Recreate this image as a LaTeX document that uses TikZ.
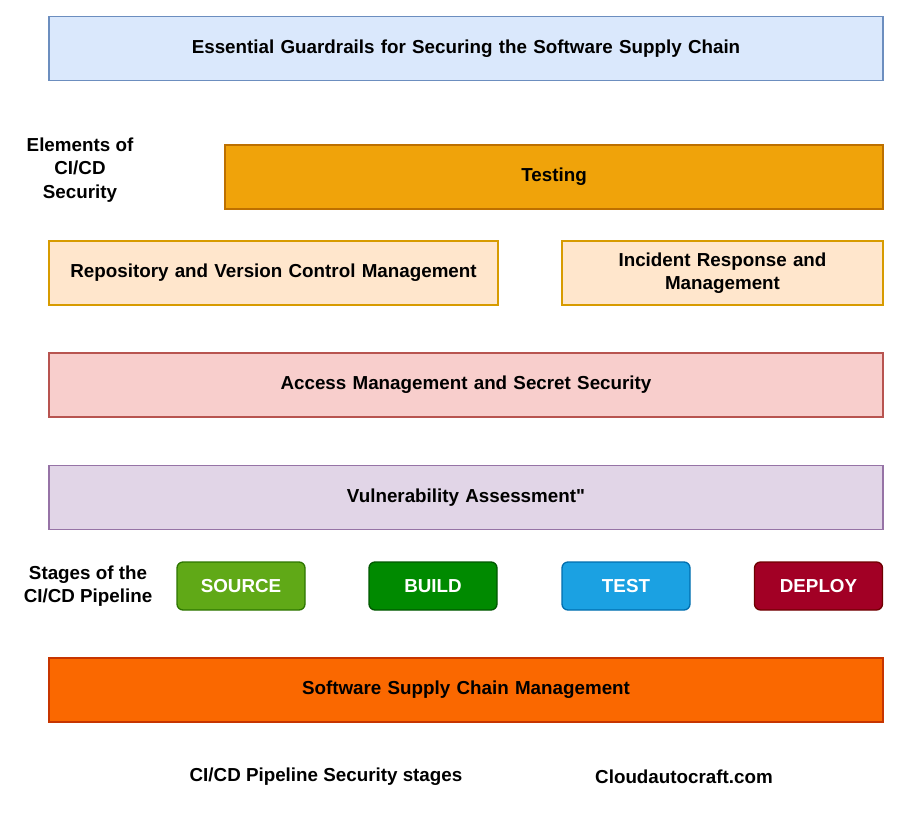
\documentclass[tikz,border=0pt]{standalone}
\usepackage{fontspec}
\setmainfont{Liberation Sans}
\newfontfamily\plainquote{Liberation Sans}[Ligatures=ResetAll]
\begin{document}
\begin{tikzpicture}[x=1pt,y=-1pt,
  font=\fontsize{18.8}{23.5}\selectfont\bfseries,
  band/.style={draw, line width=1.3pt, minimum height=64pt, inner sep=0pt, align=center, text width=#1},
  band/.default={300pt},
  stage/.style={draw, line width=1.3pt, rounded corners=6pt, minimum width=128pt, minimum height=48pt, inner sep=0pt, text=white},
  lbl/.style={align=center, inner sep=0pt}]
\definecolor{bluef}{HTML}{DAE8FC}\definecolor{blues}{HTML}{6C8EBF}
\definecolor{orf}{HTML}{F0A30A}\definecolor{ors}{HTML}{BD7000}
\definecolor{pchf}{HTML}{FFE6CC}\definecolor{pchs}{HTML}{D79B00}
\definecolor{redf}{HTML}{F8CECC}\definecolor{reds}{HTML}{B85450}
\definecolor{purf}{HTML}{E1D5E7}\definecolor{purs}{HTML}{9673A6}
\definecolor{srcf}{HTML}{60A917}\definecolor{srcs}{HTML}{2D7600}
\definecolor{bldf}{HTML}{008A00}\definecolor{blds}{HTML}{005700}
\definecolor{tstf}{HTML}{1BA1E2}\definecolor{tsts}{HTML}{006EAF}
\definecolor{depf}{HTML}{A20025}\definecolor{deps}{HTML}{6F0000}
\definecolor{scf}{HTML}{FA6800}\definecolor{scs}{HTML}{C73500}
\useasboundingbox[fill=white] (0,0) rectangle (900,820);
\node[band={834pt}, fill=bluef, draw=blues] (title) at (466,48.5) {Essential Guardrails for Securing the Software Supply Chain};
\node[lbl] (elem) at (80,170) {Elements of\\CI/CD\\Security};
\node[band={658pt}, fill=orf, draw=ors] (testing) at (554,177) {Testing};
\node[band={449pt}, fill=pchf, draw=pchs] (repo) at (273.5,273) {Repository and Version Control Management};
\node[band={321pt}, fill=pchf, draw=pchs] (incident) at (722.5,273) {Incident Response and\\Management};
\node[band={834pt}, fill=redf, draw=reds] (access) at (466,385) {Access Management and Secret Security};
\node[band={834pt}, fill=purf, draw=purs] (vuln) at (466,497.5) {Vulnerability Assessment{\plainquote\bfseries"}};
\node[lbl] (stages) at (88,586) {Stages of the\\CI/CD Pipeline};
\node[stage, fill=srcf, draw=srcs] (source) at (241,586) {SOURCE};
\node[stage, fill=bldf, draw=blds] (build) at (433,586) {BUILD};
\node[stage, fill=tstf, draw=tsts] (test) at (626,586) {TEST};
\node[stage, fill=depf, draw=deps] (deploy) at (818.5,586) {DEPLOY};
\node[band={834pt}, fill=scf, draw=scs] (supply) at (466,690) {Software Supply Chain Management};
\node[lbl] (cap1) at (326,777) {CI/CD Pipeline Security stages};
\node[lbl] (cap2) at (684,777) {Cloudautocraft.com};
\end{tikzpicture}
\end{document}
